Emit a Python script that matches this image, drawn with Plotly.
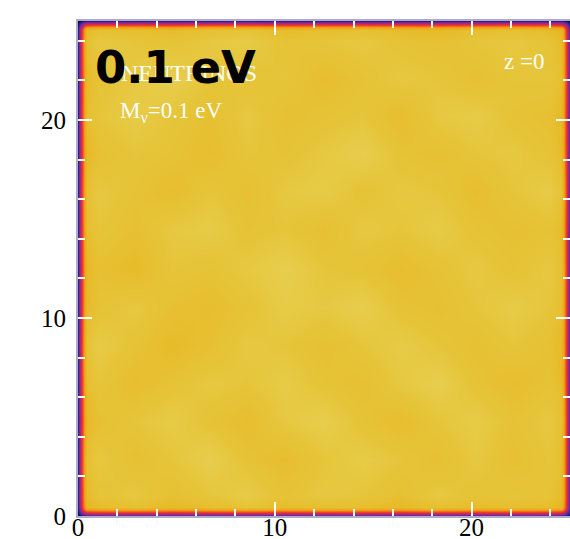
import numpy as np
import plotly.graph_objects as go

# Box side (Mpc/h) and coarse neutrino density field (normalised), rows from y=1 (bottom) to y=24 (top)
BOX = 25.0
CELL = [1.0, 2.9, 4.8, 6.7, 8.6, 10.5, 12.5, 14.5, 16.4, 18.3, 20.2, 22.1, 24.0]
FIELD = [
    [0.91, 0.93, 0.90, 0.92, 0.94, 0.91, 0.93, 0.92, 0.90, 0.93, 0.91, 0.92, 0.91],
    [0.93, 0.90, 0.92, 0.95, 0.91, 0.89, 0.92, 0.94, 0.92, 0.90, 0.93, 0.90, 0.92],
    [0.90, 0.92, 0.94, 0.91, 0.89, 0.93, 0.95, 0.91, 0.89, 0.92, 0.94, 0.91, 0.93],
    [0.92, 0.89, 0.91, 0.93, 0.92, 0.94, 0.91, 0.90, 0.93, 0.95, 0.91, 0.89, 0.91],
    [0.94, 0.91, 0.88, 0.90, 0.93, 0.92, 0.90, 0.92, 0.94, 0.92, 0.90, 0.92, 0.90],
    [0.91, 0.93, 0.90, 0.89, 0.91, 0.94, 0.93, 0.95, 0.91, 0.90, 0.92, 0.94, 0.92],
    [0.90, 0.88, 0.92, 0.91, 0.93, 0.95, 0.92, 0.91, 0.89, 0.91, 0.93, 0.91, 0.93],
    [0.92, 0.90, 0.93, 0.94, 0.91, 0.92, 0.90, 0.93, 0.92, 0.94, 0.91, 0.90, 0.91],
    [0.93, 0.91, 0.89, 0.92, 0.90, 0.93, 0.94, 0.91, 0.93, 0.92, 0.89, 0.92, 0.94],
    [0.90, 0.92, 0.91, 0.89, 0.92, 0.91, 0.93, 0.95, 0.91, 0.90, 0.92, 0.93, 0.91],
    [0.92, 0.94, 0.92, 0.90, 0.93, 0.90, 0.91, 0.92, 0.89, 0.93, 0.94, 0.91, 0.90],
    [0.91, 0.93, 0.95, 0.92, 0.91, 0.92, 0.89, 0.91, 0.93, 0.92, 0.90, 0.92, 0.92],
    [0.93, 0.92, 0.91, 0.93, 0.94, 0.91, 0.92, 0.93, 0.91, 0.90, 0.92, 0.93, 0.91],
]

# Fall-off of the smoothed field at the box faces: distance from face -> fraction kept
EDGE_DIST = [0.0, 0.05, 0.1, 0.15, 0.2, 0.25, 0.3, 0.35, 0.45]
EDGE_KEEP = [0.20, 0.34, 0.46, 0.56, 0.65, 0.74, 0.82, 0.90, 0.97]

TICK_MAJOR = 10
TICK_MINOR = 2

# full sample coordinates: face layers + interior cells + opposite face layers
coords = list(EDGE_DIST) + CELL + [BOX - d for d in reversed(EDGE_DIST)]
keep = list(EDGE_KEEP) + [1.0] * len(CELL) + list(reversed(EDGE_KEEP))
src = [0] * len(EDGE_DIST) + list(range(len(CELL))) + [len(CELL) - 1] * len(EDGE_DIST)

field = np.array(FIELD)
z = np.empty((len(coords), len(coords)))
for j in range(len(coords)):
    for i in range(len(coords)):
        z[j, i] = field[src[j], src[i]] * keep[i] * keep[j]

colorscale = [
    [0.00, "#000008"], [0.10, "#141060"], [0.22, "#3a2a9c"], [0.34, "#7a2aa0"],
    [0.46, "#c42468"], [0.56, "#e8302c"], [0.66, "#f2621c"], [0.76, "#f49a16"],
    [0.85, "#e8b41e"], [0.92, "#e6c53a"], [1.00, "#eadc70"],
]

fig = go.Figure(go.Heatmap(
    x=coords, y=coords, z=z, zmin=0, zmax=1,
    colorscale=colorscale, zsmooth="best", showscale=False, hoverinfo="skip",
))

axis_common = dict(
    range=[0, BOX], tick0=0, dtick=TICK_MAJOR, ticks="inside", ticklen=14, tickwidth=1.5,
    tickcolor="white", showline=True, linecolor="#b0aacb", linewidth=2, mirror="ticks",
    showgrid=False, zeroline=False,
    tickfont=dict(family="Liberation Serif", size=25, color="black"),
    minor=dict(dtick=TICK_MINOR, ticks="inside", ticklen=7, tickwidth=1.5, tickcolor="white", showgrid=False),
    automargin=False,
)

L, R, T, B = 78, 0, 21, 23
W, H = 570, 539
pw, ph = W - L - R, H - T - B

def px(x):
    return (x - L) / pw

def py(y):
    return (H - B - y) / ph

fig.update_layout(
    width=W, height=H, margin=dict(l=L, r=R, t=T, b=B),
    paper_bgcolor="white", plot_bgcolor="white",
    xaxis=dict(axis_common, ticklabelstandoff=-12),
    yaxis=dict(axis_common, ticklabelstandoff=5),
    showlegend=False,
    annotations=[
        dict(text="NEUTRINOS", x=px(189), y=py(73), xref="paper", yref="paper",
             showarrow=False, xanchor="center", yanchor="middle",
             font=dict(family="Liberation Serif", size=24, color="white")),
        dict(text="M<sub>ν</sub>=0.1 eV", x=px(118), y=py(112), xref="paper", yref="paper",
             showarrow=False, xanchor="left", yanchor="middle",
             font=dict(family="Liberation Serif", size=23, color="white")),
        dict(text="z =0", x=px(546), y=py(62), xref="paper", yref="paper",
             showarrow=False, xanchor="right", yanchor="middle",
             font=dict(family="Liberation Serif", size=23, color="white")),
        dict(text="<b>0.1 eV</b>", x=px(175), y=py(67), xref="paper", yref="paper",
             showarrow=False, xanchor="center", yanchor="middle",
             font=dict(family="DejaVu Sans", size=45, color="black")),
    ],
)

fig.write_html("out.html")
